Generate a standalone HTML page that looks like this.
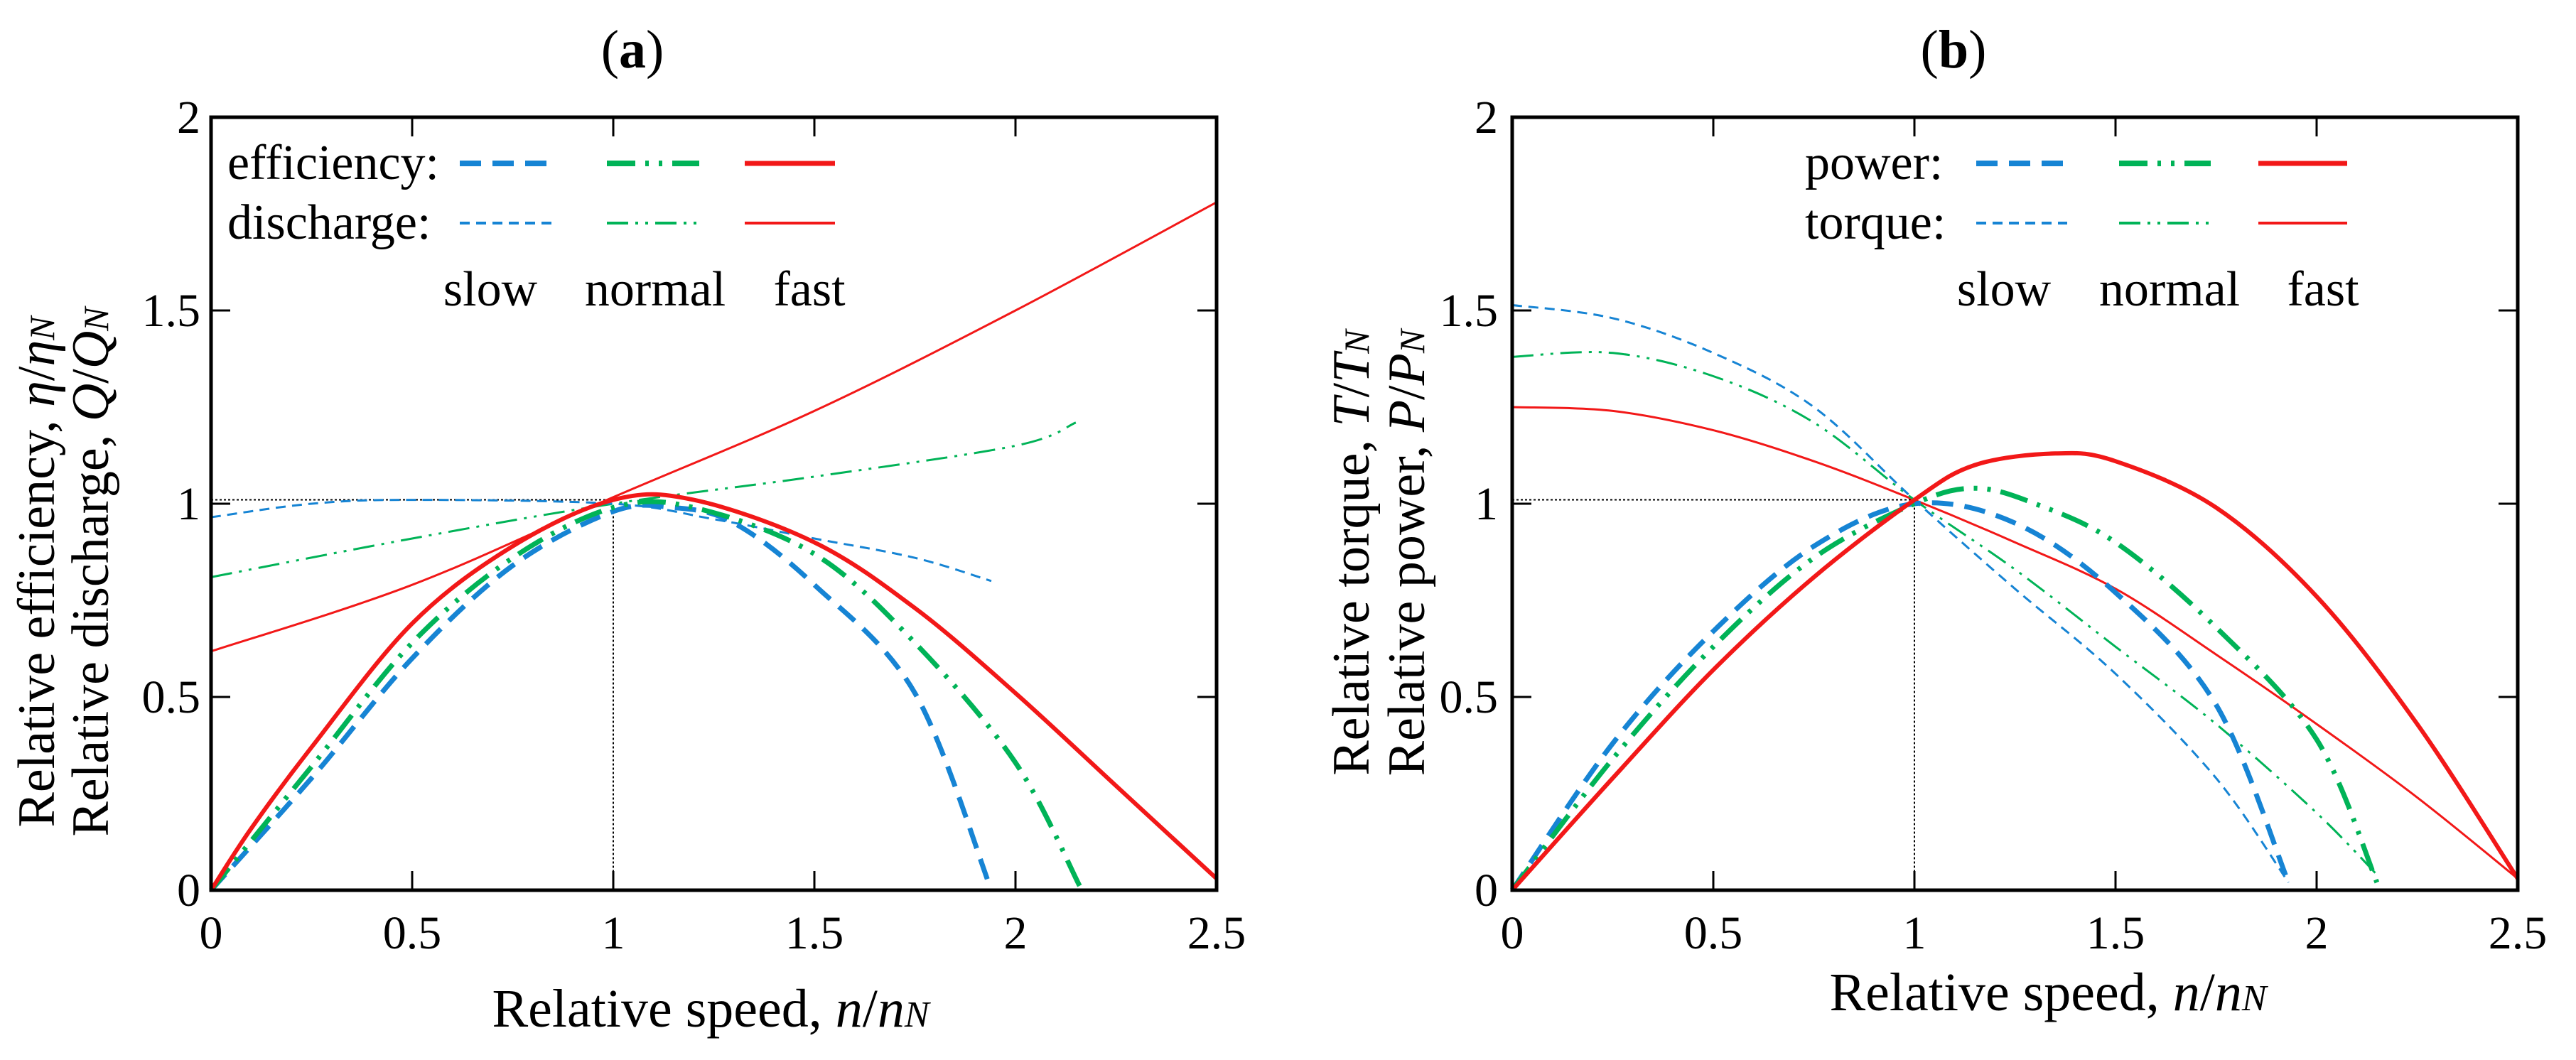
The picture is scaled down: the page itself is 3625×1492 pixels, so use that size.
<!DOCTYPE html>
<html><head><meta charset="utf-8"><style>
html,body{margin:0;padding:0;background:#fff;}
svg{display:block;}
svg text{font-family:"Liberation Serif","DejaVu Serif",serif;}
</style></head><body>
<svg id="chart" width="3625" height="1492" viewBox="0 0 3625 1492" font-family="'Liberation Serif', 'DejaVu Serif', serif" xmlns="http://www.w3.org/2000/svg"></svg>
<script>
// Panel (a) data
const xA_effSlow=[0,0.25,0.5,0.75,1,1.15,1.3,1.5,1.75,1.94];
const yA_effSlow=[0,0.29,0.60,0.84,0.98,0.99,0.95,0.79,0.51,0];
const xA_effNormal=[0,0.25,0.5,0.75,1,1.2,1.5,1.75,2,2.16];
const yA_effNormal=[0,0.32,0.64,0.86,0.99,0.99,0.87,0.64,0.33,0.01];
const xA_effFast=[0,0.1,0.25,0.5,0.75,1,1.2,1.5,1.75,2,2.25,2.5];
const yA_effFast=[0,0.16,0.37,0.69,0.89,1.01,1.01,0.90,0.73,0.51,0.27,0.03];
const xA_qSlow=[0,0.25,0.5,1,1.25,1.5,1.75,1.94];
const yA_qSlow=[0.965,1.0,1.01,1.0,0.96,0.91,0.86,0.80];
const xA_qNormal=[0,0.5,1,1.5,2,2.15];
const yA_qNormal=[0.81,0.91,1.0,1.07,1.15,1.21];
const xA_qFast=[0,0.5,1,1.5,2,2.5];
const yA_qFast=[0.618,0.79,1.017,1.24,1.50,1.78];
// Panel (b) data
const xB_pSlow=[0,0.25,0.5,0.75,1,1.25,1.5,1.75,1.93];
const yB_pSlow=[0,0.38,0.67,0.89,1.0,0.95,0.77,0.48,0.02];
const xB_pNormal=[0,0.25,0.5,0.75,1,1.15,1.3,1.5,1.75,2,2.15];
const yB_pNormal=[0,0.34,0.63,0.86,1.0,1.04,1.0,0.90,0.68,0.39,0.02];
const xB_pFast=[0,0.25,0.5,0.75,1,1.15,1.35,1.5,1.75,2,2.25,2.5];
const yB_pFast=[0,0.29,0.57,0.81,1.01,1.10,1.13,1.11,0.99,0.76,0.43,0.03];
const xB_tSlow=[0,0.25,0.5,0.75,1,1.25,1.5,1.75,1.93];
const yB_tSlow=[1.514,1.48,1.39,1.25,1.01,0.78,0.56,0.29,0.02];
const xB_tNormal=[0,0.25,0.5,0.75,1,1.25,1.5,1.75,2,2.15];
const yB_tNormal=[1.38,1.39,1.33,1.21,1.01,0.83,0.63,0.43,0.20,0.04];
const xB_tFast=[0,0.25,0.5,0.75,1,1.25,1.5,1.75,2,2.25,2.5];
const yB_tFast=[1.25,1.24,1.19,1.11,1.01,0.90,0.78,0.61,0.43,0.24,0.03];
const xTicks=[0,0.5,1,1.5,2,2.5];
const xTickLabels=["0","0.5","1","1.5","2","2.5"];
const yTicks=[0,0.5,1,1.5,2];
const yTickLabels=["0","0.5","1","1.5","2"];

const NS="http://www.w3.org/2000/svg";
const FONT="'Liberation Serif', 'DejaVu Serif', serif";
const svg=document.getElementById('chart');
const BLUE="#1684d4",GREEN="#00b357",RED="#f21818";
const STY={
 slowThick:{c:BLUE,w:7,d:"30 16"},
 normalThick:{c:GREEN,w:7,d:"40 14 5 14 5 14"},
 fastThick:{c:RED,w:6,d:""},
 slowThin:{c:BLUE,w:3,d:"14 9"},
 normalThin:{c:GREEN,w:3,d:"30 10 4 10 4 10"},
 fastThin:{c:RED,w:3,d:""}
};
function el(tag,attrs,parent){const e=document.createElementNS(NS,tag);for(const k in attrs)e.setAttribute(k,attrs[k]);if(tag==='text')e.setAttribute('font-family',FONT);(parent||svg).appendChild(e);return e;}
function smooth(p){let d="M"+p[0][0]+","+p[0][1];for(let i=0;i<p.length-1;i++){const p0=p[i-1]||p[i],p1=p[i],p2=p[i+1],p3=p[i+2]||p2;
 const c1=[p1[0]+(p2[0]-p0[0])/6,p1[1]+(p2[1]-p0[1])/6],c2=[p2[0]-(p3[0]-p1[0])/6,p2[1]-(p3[1]-p1[1])/6];
 d+=" C"+c1[0].toFixed(1)+","+c1[1].toFixed(1)+" "+c2[0].toFixed(1)+","+c2[1].toFixed(1)+" "+p2[0].toFixed(1)+","+p2[1].toFixed(1);}return d;}

function panel(o){
 const x0=o.x0,x1=o.x1,y0=1253,y1=165;
 const sx=v=>x0+(x1-x0)*v/2.5, sy=v=>y0-(y0-y1)*v/2;
 const g=el('g',{});
 
 
 const r1=el('line',{x1:sx(0),y1:sy(1.01),x2:sx(1),y2:sy(1.01),stroke:'#000','stroke-width':2,'stroke-dasharray':'3 3'},g);
 
 
 const r2=el('line',{x1:sx(1),y1:sy(0.99),x2:sx(1),y2:sy(0),stroke:'#000','stroke-width':2,'stroke-dasharray':'3 3'},g);
 
 
 o.series.forEach(s=>{const pts=s.x.map((v,i)=>[sx(v),sy(s.y[i])]);const st=STY[s.st];
  const p=el('path',{d:smooth(pts),fill:'none',stroke:st.c,'stroke-width':st.w,'stroke-dasharray':st.d,'stroke-linejoin':'round'},g);
  
  });
 const fr=el('rect',{x:x0,y:y1,width:x1-x0,height:y0-y1,fill:'none',stroke:'#000','stroke-width':5},g);
 
 
 xTicks.forEach((v,i)=>{
  el('line',{x1:sx(v),y1:y0,x2:sx(v),y2:y0-27,stroke:'#000','stroke-width':3},g);
  el('line',{x1:sx(v),y1:y1,x2:sx(v),y2:y1+27,stroke:'#000','stroke-width':3},g);
  const t=el('text',{x:sx(v),y:1335,'font-size':66,'text-anchor':'middle'},g);t.textContent=xTickLabels[i];
  
  });
 yTicks.forEach((v,i)=>{
  el('line',{x1:x0,y1:sy(v),x2:x0+27,y2:sy(v),stroke:'#000','stroke-width':3},g);
  el('line',{x1:x1,y1:sy(v),x2:x1-27,y2:sy(v),stroke:'#000','stroke-width':3},g);
  const t=el('text',{x:o.yLabX,y:sy(v)+22,'font-size':66,'text-anchor':'end'},g);t.textContent=yTickLabels[i];
  
  });
 const ti=el('text',{x:o.titleX,y:95,'font-size':76,'text-anchor':'middle'},g);
 ti.innerHTML='(<tspan font-weight="bold">'+o.letter+'</tspan>)';
 
 
 const xl=el('text',{x:o.xLabX,y:o.xLabY,'font-size':76,'text-anchor':'middle'},g);
 xl.innerHTML='Relative speed, <tspan font-style="italic">n</tspan>/<tspan font-style="italic">n</tspan><tspan font-style="italic" font-size="52">N</tspan>';
 
 
 o.yTitles.forEach(yt=>{const t=el('text',{x:0,y:0,'font-size':74,'text-anchor':'middle',transform:'translate('+yt.x+','+o.yTitleY+') rotate(-90)'},g);
  t.innerHTML=yt.html;
  
  });
 const L=o.leg;
 [[L.row1,230,'Thick'],[L.row2,314,'Thin']].forEach(r=>{
  const t=el('text',{x:L.tx,y:r[1]+22,'font-size':70},g);t.textContent=r[0];
  
  
  ['slow','normal','fast'].forEach((k,i)=>{const st=STY[k+r[2]];
   const ln=el('line',{x1:L.lines[i][0],y1:r[1],x2:L.lines[i][1],y2:r[1],stroke:st.c,'stroke-width':st.w+1,'stroke-dasharray':st.d},g);
   
   });});
 ['slow','normal','fast'].forEach((k,i)=>{const t=el('text',{x:L.cx[i],y:430,'font-size':70,'text-anchor':'middle'},g);t.textContent=k;
  
  });
}
panel({name:'panel-a',letter:'a',x0:297,x1:1712,yLabX:282,titleX:890,xLabX:1000,xLabY:1445,yTitleY:805,
 yTitles:[{x:76,html:'Relative efficiency, <tspan font-style="italic">η</tspan>/<tspan font-style="italic">η</tspan><tspan font-style="italic" font-size="50">N</tspan>'},
          {x:152,html:'Relative discharge, <tspan font-style="italic">Q</tspan>/<tspan font-style="italic">Q</tspan><tspan font-style="italic" font-size="50">N</tspan>'}],
 leg:{row1:'efficiency:',row2:'discharge:',tx:320,lines:[[647,779],[854,984],[1048,1175]],cx:[690,922,1139]},
 series:[{name:'discharge-fast',st:'fastThin',x:xA_qFast,y:yA_qFast},{name:'discharge-normal',st:'normalThin',x:xA_qNormal,y:yA_qNormal},
  {name:'discharge-slow',st:'slowThin',x:xA_qSlow,y:yA_qSlow},{name:'efficiency-slow',st:'slowThick',x:xA_effSlow,y:yA_effSlow},
  {name:'efficiency-normal',st:'normalThick',x:xA_effNormal,y:yA_effNormal},{name:'efficiency-fast',st:'fastThick',x:xA_effFast,y:yA_effFast}]});
panel({name:'panel-b',letter:'b',x0:2128,x1:3543,yLabX:2108,titleX:2749,xLabX:2882,xLabY:1422,yTitleY:778,
 yTitles:[{x:1926,html:'Relative torque, <tspan font-style="italic">T</tspan>/<tspan font-style="italic">T</tspan><tspan font-style="italic" font-size="50">N</tspan>'},
          {x:2004,html:'Relative power, <tspan font-style="italic">P</tspan>/<tspan font-style="italic">P</tspan><tspan font-style="italic" font-size="50">N</tspan>'}],
 leg:{row1:'power:',row2:'torque:',tx:2540,lines:[[2781,2909],[2982,3111],[3178,3303]],cx:[2820,3053,3269]},
 series:[{name:'torque-fast',st:'fastThin',x:xB_tFast,y:yB_tFast},{name:'torque-normal',st:'normalThin',x:xB_tNormal,y:yB_tNormal},
  {name:'torque-slow',st:'slowThin',x:xB_tSlow,y:yB_tSlow},{name:'power-slow',st:'slowThick',x:xB_pSlow,y:yB_pSlow},
  {name:'power-normal',st:'normalThick',x:xB_pNormal,y:yB_pNormal},{name:'power-fast',st:'fastThick',x:xB_pFast,y:yB_pFast}]});
</script>
</body></html>
